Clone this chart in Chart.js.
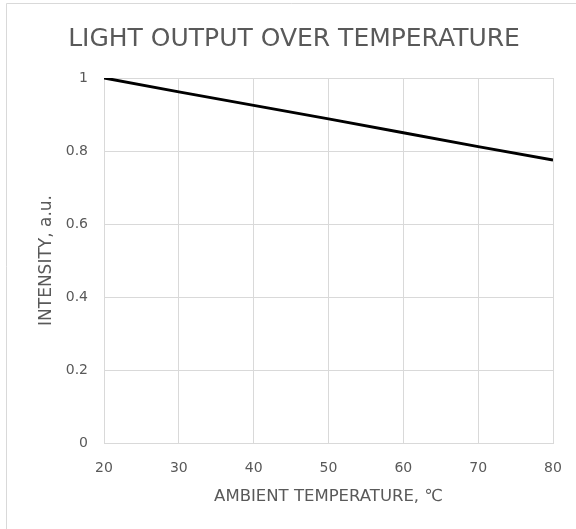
<!DOCTYPE html>
<html>
<head>
<meta charset="utf-8">
<script src="https://cdn.jsdelivr.net/npm/chart.js@4.4.1/dist/chart.umd.min.js"></script>
<style>
  html, body { margin: 0; padding: 0; background: #fff; }
  #wrap { width: 576px; height: 529px; }
</style>
</head>
<body>
<div id="wrap"><canvas id="lightChart" width="576" height="529"></canvas></div>
<script>
const temperatures = [20, 30, 40, 50, 60, 70, 80];
const intensity = [1, 0.962, 0.925, 0.888, 0.85, 0.812, 0.775];
const xTicks = [20, 30, 40, 50, 60, 70, 80];
const yTicks = [0, 0.2, 0.4, 0.6, 0.8, 1];

const textColor = "#595959";
const gridColor = "#d9d9d9";
const fontFamily = "'DejaVu Sans', sans-serif";

// thin grey frame on the left and top edges, like the original export
const frame = {
    id: "frame",
    beforeDraw(chart) {
        const ctx = chart.ctx;
        ctx.save();
        ctx.fillStyle = "#fff";
        ctx.fillRect(0, 0, chart.width, chart.height);
        ctx.strokeStyle = gridColor;
        ctx.lineWidth = 1;
        ctx.beginPath();
        ctx.moveTo(6.5, chart.height);
        ctx.lineTo(6.5, 3.5);
        ctx.lineTo(chart.width, 3.5);
        ctx.stroke();
        ctx.restore();
    },
};

new Chart(document.getElementById("lightChart"), {
    type: "line",
    data: {
        datasets: [
            {
                data: temperatures.map((t, i) => ({ x: t, y: intensity[i] })),
                borderColor: "#000",
                borderWidth: 3,
                pointRadius: 0,
                tension: 0,
            },
        ],
    },
    options: {
        responsive: false,
        animation: false,
        layout: { padding: { left: 35, right: 23, top: 0, bottom: 0 } },
        plugins: {
            legend: { display: false },
            tooltip: { enabled: false },
            title: {
                display: true,
                text: "LIGHT OUTPUT OVER TEMPERATURE",
                color: textColor,
                font: { family: fontFamily, size: 25, weight: "normal", lineHeight: 1.2 },
                padding: { top: 24, bottom: 24 },
            },
        },
        scales: {
            x: {
                type: "linear",
                min: 20,
                max: 80,
                afterBuildTicks: (axis) => { axis.ticks = xTicks.map((v) => ({ value: v })); },
                afterFit: (axis) => {
                    axis.height = 86;
                    axis.paddingLeft = 0;
                    axis.paddingRight = 0;
                },
                grid: { color: gridColor, drawTicks: false },
                border: { color: gridColor },
                ticks: { color: textColor, padding: 17, font: { family: fontFamily, size: 14 } },
                title: {
                    display: true,
                    text: "AMBIENT TEMPERATURE, ℃",
                    color: textColor,
                    font: { family: fontFamily, size: 16.5, lineHeight: 1.2 },
                    padding: { top: 0, bottom: 22 },
                },
            },
            y: {
                min: 0,
                max: 1,
                afterBuildTicks: (axis) => { axis.ticks = yTicks.map((v) => ({ value: v })); },
                afterFit: (axis) => { axis.width = 69; },
                grid: { color: gridColor, drawTicks: false },
                border: { color: gridColor },
                ticks: {
                    color: textColor,
                    padding: 16,
                    font: { family: fontFamily, size: 14 },
                    callback: (v) => String(v),
                },
                title: {
                    display: true,
                    text: "INTENSITY, a.u.",
                    color: textColor,
                    font: { family: fontFamily, size: 17, lineHeight: 1.2 },
                    padding: { top: 1, bottom: 0 },
                },
            },
        },
    },
    plugins: [frame],
});
</script>
</body>
</html>
